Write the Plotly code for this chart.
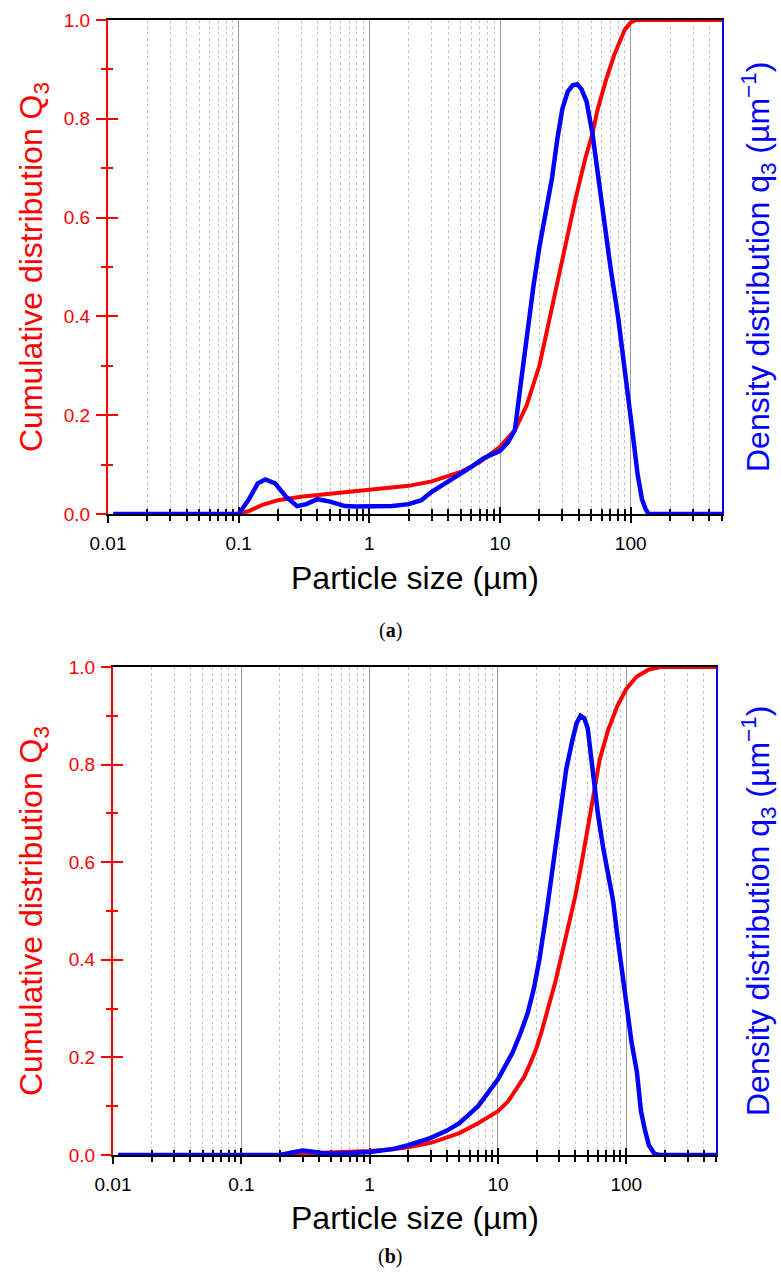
import numpy as np
import plotly.graph_objects as go

W, H = 781, 1278

# ---------------- data (a) ----------------
size_a_cum = [0.011, 0.1, 0.12, 0.15, 0.2, 0.3, 0.5, 1.0, 2.0, 3.0, 5.0, 7.0, 10, 13, 16, 20, 25, 30,
              38, 45, 51, 56, 65, 75, 90, 100, 110, 500]
Q3_a = [0, 0, 0.006, 0.018, 0.028, 0.035, 0.041, 0.048, 0.057, 0.066, 0.085, 0.105, 0.136, 0.17, 0.22,
        0.30, 0.42, 0.52, 0.64, 0.72, 0.77, 0.82, 0.88, 0.93, 0.98, 0.995, 1.0, 1.0]

size_a_den = [0.011, 0.1, 0.12, 0.14, 0.16, 0.19, 0.23, 0.28, 0.33, 0.4, 0.5, 0.65, 0.8, 1.0, 1.5, 2.0,
              2.5, 3.0, 4.0, 5.0, 6.0, 7.5, 10, 11.5, 13, 14.2, 16, 18, 20, 22, 25, 27.5, 30, 33, 36,
              39, 42, 46, 51, 56, 62, 70, 80, 93, 104, 113, 122, 130, 137, 500]
q3_a = [0, 0, 0.03, 0.062, 0.07, 0.062, 0.035, 0.016, 0.02, 0.03, 0.025, 0.016, 0.015, 0.016, 0.016,
        0.02, 0.028, 0.045, 0.065, 0.08, 0.095, 0.113, 0.128, 0.145, 0.17, 0.25, 0.36, 0.46, 0.54,
        0.6, 0.68, 0.76, 0.82, 0.855, 0.868, 0.87, 0.86, 0.835, 0.77, 0.69, 0.6, 0.5, 0.4, 0.27,
        0.16, 0.08, 0.03, 0.01, 0, 0]

# ---------------- data (b) ----------------
size_b_cum = [0.011, 0.2, 0.3, 0.5, 1.0, 1.5, 2, 3, 5, 7, 10, 12, 14, 16, 18, 20, 22, 25, 28, 32, 36,
              40, 45, 50, 55, 62, 72, 85, 100, 120, 150, 185, 500]
Q3_b = [0, 0, 0.003, 0.005, 0.008, 0.012, 0.016, 0.025, 0.045, 0.065, 0.09, 0.11, 0.135, 0.16, 0.19,
        0.22, 0.255, 0.305, 0.355, 0.42, 0.48, 0.53, 0.6, 0.67, 0.74, 0.81, 0.87, 0.92, 0.955, 0.98,
        0.995, 1.0, 1.0]

size_b_den = [0.011, 0.2, 0.25, 0.3, 0.35, 0.45, 0.6, 1.0, 1.5, 2, 3, 4, 5, 7, 10, 11.3, 13, 15, 17,
              19, 21, 24, 27, 30, 34, 38, 41, 44, 47, 50, 55, 60, 66, 72, 79, 86, 93, 100, 110, 121,
              130, 140, 150, 165, 180, 500]
q3_b = [0, 0, 0.005, 0.009, 0.007, 0.003, 0.003, 0.006, 0.012, 0.02, 0.035, 0.05, 0.065, 0.1, 0.155,
        0.18, 0.21, 0.25, 0.29, 0.34, 0.4, 0.5, 0.6, 0.69, 0.79, 0.85, 0.885, 0.9, 0.895, 0.875, 0.78,
        0.7, 0.63, 0.58, 0.52, 0.44, 0.37, 0.3, 0.23, 0.17, 0.09, 0.05, 0.02, 0.003, 0, 0]

# ---------------- ticks ----------------
x_tick_vals = [0.01, 0.1, 1, 10, 100]
x_tick_text = ["0.01", "0.1", "1", "10", "100"]
x_minor_vals = [m * 10 ** e for e in range(-2, 3) for m in range(2, 10) if m * 10 ** e <= 500]
y_tick_vals = [0, 0.2, 0.4, 0.6, 0.8, 1.0]
y_tick_text = ["0.0", "0.2", "0.4", "0.6", "0.8", "1.0"]
y_minor_vals = [0.1, 0.3, 0.5, 0.7, 0.9]

RED = "#ff0000"
BLUE = "#0000ff"
FONT = "Arial, Liberation Sans, sans-serif"
XR = [-2, np.log10(500)]

panels = [
    dict(x="x", xi="x3", y="y", yr="y2", yi="y3", left=108, right=722, top=20, bottom=514,
         xs_c=size_a_cum, c=Q3_a, xs_d=size_a_den, d=q3_a, cap="(<b>a</b>)",
         xtitle_y=578, cap_y=630),
    dict(x="x2", xi="x4", y="y4", yr="y5", yi="y6", left=113, right=716, top=667, bottom=1155,
         xs_c=size_b_cum, c=Q3_b, xs_d=size_b_den, d=q3_b, cap="(<b>b</b>)",
         xtitle_y=1218, cap_y=1256),
]


def lk(a):
    return ("xaxis" if a[0] == "x" else "yaxis") + a[1:]


fig = go.Figure()
layout = {}
annotations = []

for p in panels:
    xd = [p["left"] / W, p["right"] / W]
    yd = [1 - p["bottom"] / H, 1 - p["top"] / H]

    fig.add_trace(go.Scatter(x=p["xs_c"], y=p["c"], mode="lines", xaxis=p["x"], yaxis=p["y"],
                             line=dict(color=RED, width=4), showlegend=False, hoverinfo="x+y",
                             cliponaxis=False))
    fig.add_trace(go.Scatter(x=p["xs_d"], y=p["d"], mode="lines", xaxis=p["x"], yaxis=p["yr"],
                             line=dict(color=BLUE, width=4.5), showlegend=False, hoverinfo="x+y",
                             cliponaxis=False))
    # invisible helpers so the tick-overlay axes are drawn
    fig.add_trace(go.Scatter(x=[1], y=[0.5], mode="lines", xaxis=p["xi"], yaxis=p["y"],
                             showlegend=False, hoverinfo="skip", line=dict(width=0)))
    fig.add_trace(go.Scatter(x=[1], y=[0.5], mode="lines", xaxis=p["x"], yaxis=p["yi"],
                             showlegend=False, hoverinfo="skip", line=dict(width=0)))

    layout[lk(p["x"])] = dict(
        domain=xd, anchor=p["y"], type="log", range=XR, showline=True, linecolor="black",
        linewidth=2, mirror=True, ticks="outside", ticklen=7, tickwidth=1.5, tickcolor="black",
        tickvals=x_tick_vals, ticktext=x_tick_text, tickfont=dict(family=FONT, size=19, color="black"),
        showgrid=True, gridcolor="#9a9a9a", gridwidth=1, zeroline=False, ticklabelstandoff=4,
        automargin=False, layer="below traces",
        minor=dict(tickvals=x_minor_vals, ticks="outside", ticklen=5, tickwidth=1.5, tickcolor="black",
                   showgrid=True, gridcolor="#c4c4c4", griddash="dot", gridwidth=1),
    )
    layout[lk(p["xi"])] = dict(
        domain=xd, anchor=p["y"], overlaying=p["x"], type="log", range=XR, showline=False,
        ticks="inside", ticklen=7, tickwidth=1.5, tickcolor="black", tickvals=x_tick_vals,
        showticklabels=False, showgrid=False, zeroline=False, automargin=False,
        layer="below traces",
        minor=dict(tickvals=x_minor_vals, ticks="inside", ticklen=5, tickwidth=1.5, tickcolor="black",
                   showgrid=False),
    )
    layout[lk(p["y"])] = dict(
        domain=yd, anchor=p["x"], range=[0, 1], showline=True, linecolor=RED, linewidth=2,
        ticks="outside", ticklen=10, tickwidth=2, tickcolor=RED, tickvals=y_tick_vals,
        ticktext=y_tick_text, tickfont=dict(family=FONT, size=19, color=RED), showgrid=False,
        zeroline=False, ticklabelstandoff=2, automargin=False,
        minor=dict(tickvals=y_minor_vals, ticks="outside", ticklen=5, tickwidth=2, tickcolor=RED,
                   showgrid=False),
    )
    layout[lk(p["yi"])] = dict(
        domain=yd, anchor=p["x"], overlaying=p["y"], range=[0, 1], showline=False,
        ticks="inside", ticklen=10, tickwidth=2, tickcolor=RED, tickvals=y_tick_vals,
        showticklabels=False, showgrid=False, zeroline=False, automargin=False,
        minor=dict(tickvals=y_minor_vals, ticks="inside", ticklen=5, tickwidth=2, tickcolor=RED,
                   showgrid=False),
    )
    layout[lk(p["yr"])] = dict(
        domain=yd, anchor=p["x"], overlaying=p["y"], side="right", range=[0, 1], showline=True,
        linecolor=BLUE, linewidth=2, ticks="", showticklabels=False, showgrid=False, zeroline=False,
        automargin=False,
    )

    cy = (p["top"] + p["bottom"]) / 2
    annotations += [
        dict(text="Particle size (µm)", x=(p["left"] + p["right"]) / 2 / W, y=1 - p["xtitle_y"] / H,
             xref="paper", yref="paper", showarrow=False, xanchor="center", yanchor="middle",
             font=dict(family=FONT, size=32, color="black")),
        dict(text="Cumulative distribution Q<sub>3</sub>", x=33 / W, y=1 - cy / H, textangle=-90,
             xref="paper", yref="paper", showarrow=False, xanchor="center", yanchor="middle",
             font=dict(family=FONT, size=32, color=RED)),
        dict(text="Density distribution q<sub>3</sub> (µm<sup>−1</sup>)", x=758 / W,
             y=1 - cy / H, textangle=-90, xref="paper", yref="paper",
             showarrow=False, xanchor="center", yanchor="middle",
             font=dict(family=FONT, size=32, color=BLUE)),
        dict(text=p["cap"], x=390 / W, y=1 - p["cap_y"] / H, xref="paper", yref="paper",
             showarrow=False, xanchor="center", yanchor="middle",
             font=dict(family="Liberation Serif, Times New Roman, serif", size=20, color="black")),
    ]

fig.update_layout(
    width=W, height=H, margin=dict(l=0, r=0, t=0, b=0, pad=0), template="none",
    paper_bgcolor="white", plot_bgcolor="white", showlegend=False,
    annotations=annotations, font=dict(family=FONT), **layout,
)

fig.write_html("out.html")
